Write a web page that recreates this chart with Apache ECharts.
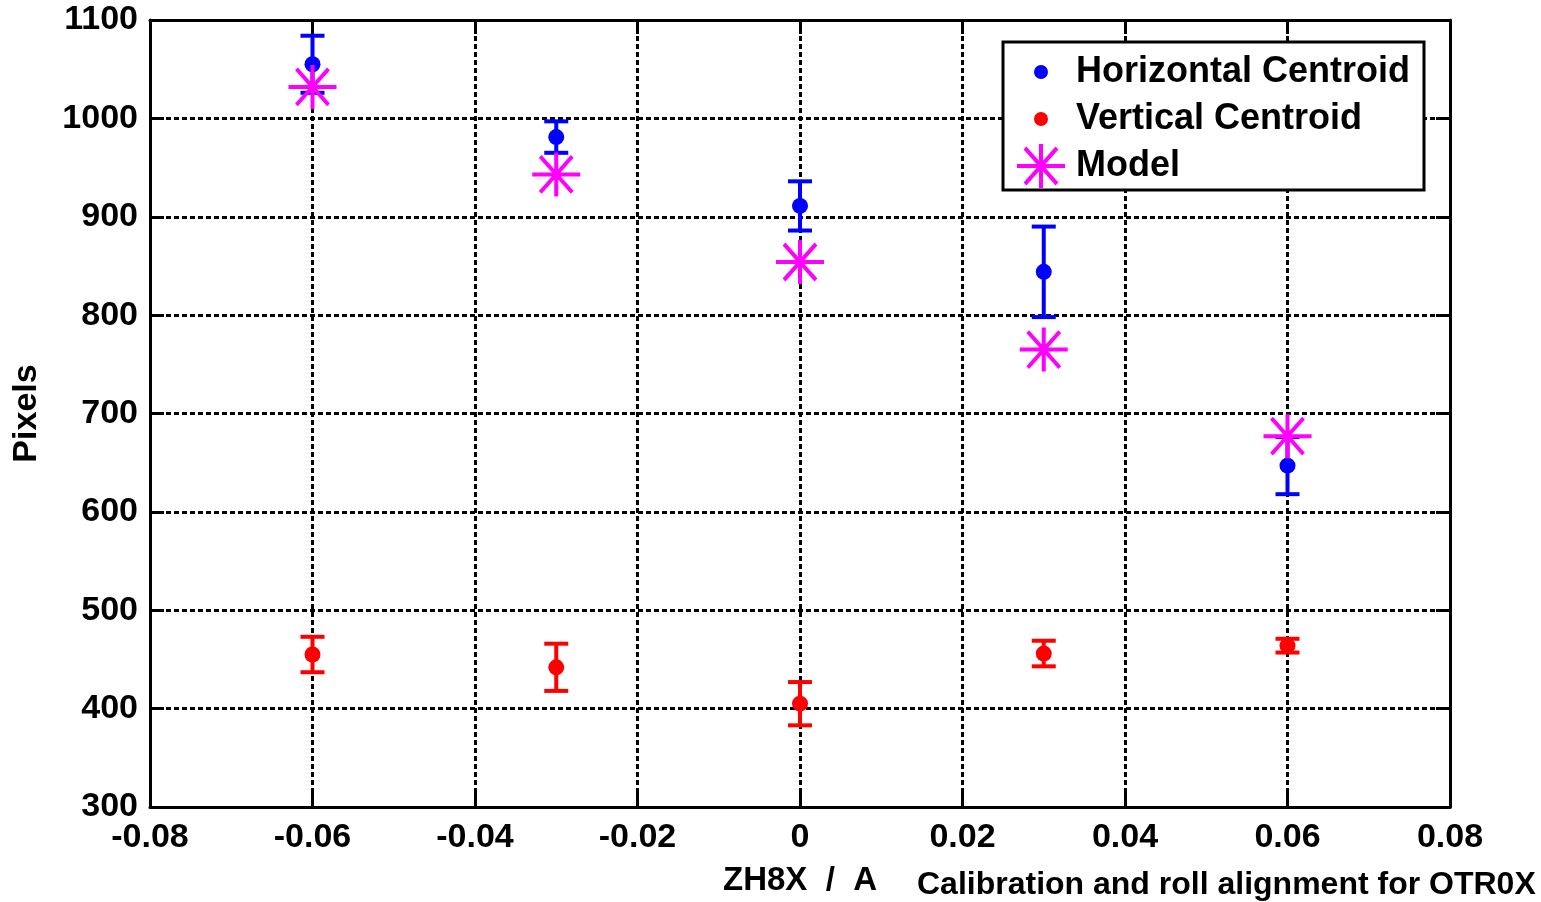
<!DOCTYPE html>
<html lang="en">
<head>
    <meta charset="UTF-8">
    <title>OTR0X calibration</title>
    <script src="https://cdn.jsdelivr.net/npm/echarts@6/dist/echarts.min.js"></script>
    <style>
        html, body { margin: 0; padding: 0; background: #fff; }
    </style>
</head>
<body>
<div id="main" style="width: 1541px;height:902px;"></div>
<script>
    // magnet current settings (A)
    var zh8x = [-0.06, -0.03, 0, 0.03, 0.06];
    // horizontal centroid (px) and its error
    var horizMean = [1055, 981, 911, 844, 647];
    var horizErr = [29, 16, 25, 46, 29];
    // vertical centroid (px) and its error
    var vertMean = [455, 442, 405, 456, 464];
    var vertErr = [18, 24, 22, 13, 7];
    // model prediction
    var modelPred = [1032, 943, 854, 765, 677];

    var xTicks = [-0.08, -0.06, -0.04, -0.02, 0, 0.02, 0.04, 0.06, 0.08];
    var yTicks = [300, 400, 500, 600, 700, 800, 900, 1000, 1100];

    var FONT = '"Liberation Sans", Arial, Helvetica, sans-serif';

    // asterisk symbol, 48 x 44 box
    var starPath = 'path://M0 20 L48 20 L48 24 L0 24 Z ' +
        'M22 0 L26 0 L26 44 L22 44 Z ' +
        'M6.6 5.4 L9.4 2.6 L41.4 38.6 L38.6 41.4 Z ' +
        'M38.6 2.6 L41.4 5.4 L9.4 41.4 L6.6 38.6 Z';
    // small dot padded to the same box for the legend
    var dotPath = 'path://M0 0 L0.01 0 L0 0.01 Z M48 44 L47.99 44 L48 43.99 Z ' +
        'M17 22 A7 7 0 1 1 31 22 A7 7 0 1 1 17 22 Z';

    function pairs(xs, ys) {
        return xs.map(function (x, i) { return [x, ys[i]]; });
    }

    function errData(xs, ys, es) {
        return xs.map(function (x, i) { return [x, ys[i] - es[i], ys[i] + es[i]]; });
    }

    function errBars(color) {
        return function (params, api) {
            var lo = api.coord([api.value(0), api.value(1)]);
            var hi = api.coord([api.value(0), api.value(2)]);
            var w = 12;
            var st = { stroke: color, lineWidth: 4 };
            return {
                type: 'group',
                children: [
                    { type: 'line', shape: { x1: lo[0], y1: lo[1], x2: hi[0], y2: hi[1] }, style: st },
                    { type: 'line', shape: { x1: lo[0] - w, y1: lo[1], x2: lo[0] + w, y2: lo[1] }, style: st },
                    { type: 'line', shape: { x1: hi[0] - w, y1: hi[1], x2: hi[0] + w, y2: hi[1] }, style: st }
                ]
            };
        };
    }

    var myChart = echarts.init(document.getElementById('main'));

    var gridLine = { show: true, lineStyle: { color: '#000', width: 3, type: [5, 3] } };
    var frameLine = { show: true, onZero: false, lineStyle: { color: '#000', width: 3 } };
    var tick = { show: true, inside: true, length: 14, lineStyle: { color: '#000', width: 3 } };
    var labelStyle = { color: '#000', fontFamily: FONT, fontWeight: 'bold', fontSize: 34 };

    var option = {
        backgroundColor: '#fff',
        animation: false,
        title: {
            text: 'Calibration and roll alignment for OTR0X',
            left: 917,
            top: 869,
            padding: 0,
            textStyle: { color: '#000', fontFamily: FONT, fontWeight: 'bold', fontSize: 32 }
        },
        grid: { left: 150, right: 91, top: 20, bottom: 90 },
        legend: {
            orient: 'vertical',
            left: 1003,
            top: 42,
            padding: [8, 14, 2, 14],
            itemGap: 3,
            itemWidth: 48,
            itemHeight: 44,
            borderColor: '#000',
            borderWidth: 3,
            backgroundColor: '#fff',
            textStyle: { color: '#000', fontFamily: FONT, fontWeight: 'bold', fontSize: 36, padding: [0, 0, 0, 6] },
            data: [
                { name: 'Horizontal Centroid', icon: dotPath },
                { name: 'Vertical Centroid', icon: dotPath },
                { name: 'Model', icon: starPath }
            ]
        },
        xAxis: [{
            type: 'value',
            min: xTicks[0],
            max: xTicks[xTicks.length - 1],
            interval: 0.02,
            name: 'ZH8X  /  A',
            nameLocation: 'middle',
            nameGap: 57,
            nameTextStyle: { color: '#000', fontFamily: FONT, fontWeight: 'bold', fontSize: 33 },
            axisLine: frameLine,
            axisTick: tick,
            splitLine: gridLine,
            axisLabel: Object.assign({
                margin: 14,
                formatter: function (v) { return v === 0 ? '0' : v.toFixed(2); }
            }, labelStyle)
        }, {
            type: 'value',
            position: 'top',
            min: xTicks[0],
            max: xTicks[xTicks.length - 1],
            interval: 0.02,
            axisLine: frameLine,
            axisTick: tick,
            axisLabel: { show: false },
            splitLine: { show: false }
        }],
        yAxis: [{
            type: 'value',
            min: yTicks[0],
            max: yTicks[yTicks.length - 1],
            interval: 100,
            name: 'Pixels',
            nameLocation: 'middle',
            nameRotate: 90,
            nameGap: 106,
            nameTextStyle: { color: '#000', fontFamily: FONT, fontWeight: 'bold', fontSize: 34 },
            axisLine: frameLine,
            axisTick: tick,
            splitLine: gridLine,
            axisLabel: Object.assign({
                margin: 12,
                formatter: function (v) { return String(v); }
            }, labelStyle)
        }, {
            type: 'value',
            position: 'right',
            min: yTicks[0],
            max: yTicks[yTicks.length - 1],
            interval: 100,
            axisLine: frameLine,
            axisTick: tick,
            axisLabel: { show: false },
            splitLine: { show: false }
        }],
        series: [
            {
                name: 'hErr',
                type: 'custom',
                renderItem: errBars('#0000ff'),
                data: errData(zh8x, horizMean, horizErr),
                z: 3
            },
            {
                name: 'vErr',
                type: 'custom',
                renderItem: errBars('#ff0000'),
                data: errData(zh8x, vertMean, vertErr),
                z: 3
            },
            {
                name: 'Horizontal Centroid',
                type: 'scatter',
                symbol: 'circle',
                symbolSize: 16,
                itemStyle: { color: '#0000ff', opacity: 1 },
                data: pairs(zh8x, horizMean),
                z: 4
            },
            {
                name: 'Vertical Centroid',
                type: 'scatter',
                symbol: 'circle',
                symbolSize: 16,
                itemStyle: { color: '#ff0000', opacity: 1 },
                data: pairs(zh8x, vertMean),
                z: 4
            },
            {
                name: 'Model',
                type: 'scatter',
                symbol: starPath,
                symbolSize: [48, 44],
                itemStyle: { color: '#ff00ff', opacity: 1 },
                data: pairs(zh8x, modelPred),
                z: 5
            }
        ]
    };
    myChart.setOption(option);
</script>
</body>
</html>
